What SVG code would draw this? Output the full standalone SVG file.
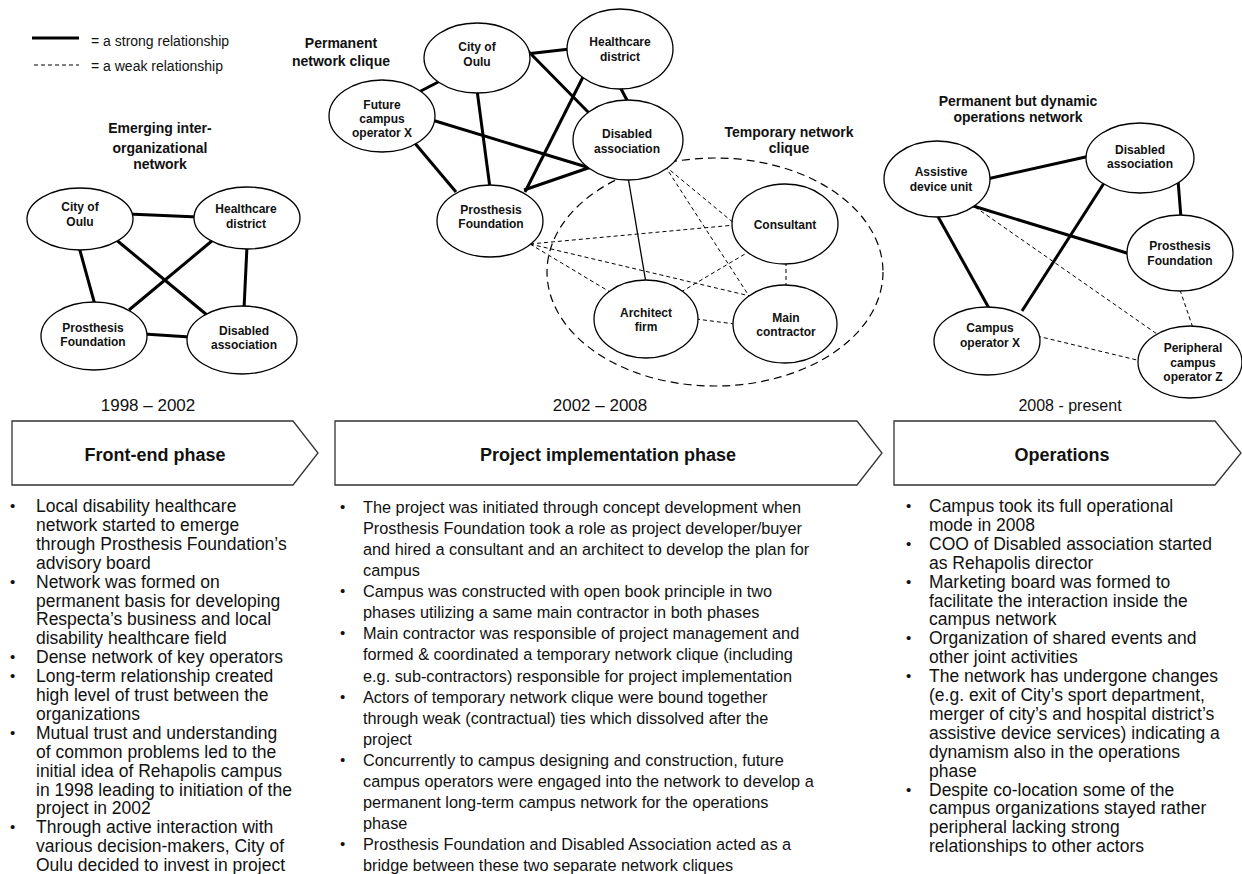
<svg xmlns="http://www.w3.org/2000/svg" width="1242" height="874" viewBox="0 0 1242 874">
  <style>
    text { font-family: "Liberation Sans", Arial, Helvetica, sans-serif; fill: #111; }
    .node ellipse { fill: #fff; stroke: #000; stroke-width: 1.3; }
    .lbl { font-size: 12px; font-weight: bold; text-anchor: middle; }
    .ttl { font-size: 14px; font-weight: bold; text-anchor: middle; }
    .strong { stroke: #000; stroke-width: 3; fill: none; }
    .weak { stroke: #000; stroke-width: 1; stroke-dasharray: 4 3; fill: none; }
    .thin { stroke: #000; stroke-width: 1.3; fill: none; }
    .clique { fill: none; stroke: #000; stroke-width: 1.2; stroke-dasharray: 8 5; }
    .phase path { fill: #fff; stroke: #333; stroke-width: 1.3; }
    .phase text { font-size: 18px; font-weight: bold; text-anchor: middle; }
    .year { font-size: 17px; text-anchor: middle; }
    .legend { font-size: 14px; }
    .body { font-size: 17.5px; }
    .bodym { font-size: 16.3px; }
    .dot { font-size: 15px; }
  </style>

  <!-- legend -->
  <g id="legend">
    <line class="strong" x1="32" y1="38" x2="79" y2="38"/>
    <text class="legend" x="91" y="45.5">= a strong relationship</text>
    <line class="weak" x1="34" y1="65" x2="79" y2="65"/>
    <text class="legend" x="91" y="71">= a weak relationship</text>
  </g>

  <!-- group titles -->
  <g id="titles">
    <text class="ttl" x="160" y="133">Emerging inter-</text>
    <text class="ttl" x="160" y="153">organizational</text>
    <text class="ttl" x="160" y="169">network</text>
    <text class="ttl" x="341" y="48">Permanent</text>
    <text class="ttl" x="341" y="66">network clique</text>
    <text class="ttl" x="789" y="137">Temporary network</text>
    <text class="ttl" x="789" y="153">clique</text>
    <text class="ttl" x="1018" y="106">Permanent but dynamic</text>
    <text class="ttl" x="1018" y="122">operations network</text>
  </g>

  <!-- temporary clique boundary -->
  <ellipse id="temporary-clique" class="clique" cx="715" cy="272" rx="168" ry="114"/>

  <!-- connectors -->
  <g id="connectors">
    <!-- 1998-2002 network -->
    <line class="strong" x1="128" y1="214" x2="198" y2="217"/>
    <line class="strong" x1="114" y1="238" x2="207" y2="315"/>
    <line class="strong" x1="79" y1="247" x2="95" y2="305"/>
    <line class="strong" x1="213" y1="240" x2="129" y2="310"/>
    <line class="strong" x1="247" y1="246" x2="244" y2="309"/>
    <line class="strong" x1="144" y1="334" x2="190" y2="337"/>

    <!-- 2002-2008 permanent clique -->
    <line class="strong" x1="417" y1="93" x2="444" y2="79"/>
    <line class="strong" x1="526" y1="54" x2="570" y2="49"/>
    <line class="strong" x1="528" y1="51" x2="591" y2="115"/>
    <line class="strong" x1="477" y1="90" x2="490" y2="188"/>
    <line class="strong" x1="432" y1="120" x2="590" y2="168"/>
    <line class="strong" x1="408" y1="135" x2="456" y2="192"/>
    <line class="strong" x1="585" y1="73" x2="525" y2="192"/>
    <line class="strong" x1="524" y1="190" x2="591" y2="167"/>
    <line class="strong" x1="619" y1="85" x2="629" y2="104"/>
    <line class="thin" x1="628" y1="177" x2="646" y2="283"/>

    <!-- 2002-2008 temporary clique ties -->
    <line class="weak" x1="530" y1="244" x2="735" y2="225"/>
    <line class="weak" x1="530" y1="244" x2="610" y2="292"/>
    <line class="weak" x1="530" y1="244" x2="750" y2="296"/>
    <line class="weak" x1="665" y1="166" x2="735" y2="224"/>
    <line class="weak" x1="665" y1="166" x2="749" y2="296"/>
    <line class="weak" x1="681" y1="292" x2="750" y2="251"/>
    <line class="weak" x1="696" y1="319" x2="735" y2="324"/>
    <line class="weak" x1="786" y1="262" x2="786" y2="287"/>

    <!-- 2008- operations network -->
    <line class="strong" x1="987" y1="179" x2="1090" y2="156"/>
    <line class="strong" x1="936" y1="213" x2="990" y2="310"/>
    <line class="strong" x1="970" y1="205" x2="1130" y2="254"/>
    <line class="strong" x1="1106" y1="180" x2="1022" y2="311"/>
    <line class="strong" x1="1178" y1="180" x2="1181" y2="218"/>
    <line class="weak" x1="975" y1="207" x2="1157" y2="334"/>
    <line class="weak" x1="1037" y1="336" x2="1141" y2="361"/>
    <line class="weak" x1="1180" y1="290" x2="1193" y2="328"/>
  </g>

  <!-- 1998-2002 nodes -->
  <g id="n1-city" class="node">
    <ellipse cx="80" cy="219" rx="53" ry="31"/>
    <text class="lbl" x="80" y="211">City of</text>
    <text class="lbl" x="80" y="226">Oulu</text>
  </g>
  <g id="n1-healthcare" class="node">
    <ellipse cx="247" cy="218" rx="53" ry="31"/>
    <text class="lbl" x="246" y="213">Healthcare</text>
    <text class="lbl" x="246" y="228">district</text>
  </g>
  <g id="n1-prosthesis" class="node">
    <ellipse cx="94" cy="336" rx="53" ry="34"/>
    <text class="lbl" x="93" y="332">Prosthesis</text>
    <text class="lbl" x="93" y="346">Foundation</text>
  </g>
  <g id="n1-disabled" class="node">
    <ellipse cx="242" cy="340" rx="55" ry="34"/>
    <text class="lbl" x="244" y="335">Disabled</text>
    <text class="lbl" x="244" y="349">association</text>
  </g>

  <!-- 2002-2008 nodes -->
  <g id="n2-city" class="node">
    <ellipse cx="477" cy="58" rx="53" ry="35"/>
    <text class="lbl" x="477" y="51">City of</text>
    <text class="lbl" x="477" y="66">Oulu</text>
  </g>
  <g id="n2-healthcare" class="node">
    <ellipse cx="620" cy="49" rx="53" ry="40"/>
    <text class="lbl" x="620" y="46">Healthcare</text>
    <text class="lbl" x="620" y="61">district</text>
  </g>
  <g id="n2-future-operator" class="node">
    <ellipse cx="382" cy="116" rx="53" ry="36"/>
    <text class="lbl" x="382" y="109">Future</text>
    <text class="lbl" x="382" y="123">campus</text>
    <text class="lbl" x="382" y="137">operator X</text>
  </g>
  <g id="n2-prosthesis" class="node">
    <ellipse cx="490" cy="221" rx="53" ry="36"/>
    <text class="lbl" x="491" y="214">Prosthesis</text>
    <text class="lbl" x="491" y="228">Foundation</text>
  </g>
  <g id="n2-disabled" class="node">
    <ellipse cx="628" cy="140" rx="55" ry="40"/>
    <text class="lbl" x="627" y="138">Disabled</text>
    <text class="lbl" x="627" y="153">association</text>
  </g>
  <g id="n2-consultant" class="node">
    <ellipse cx="785" cy="224" rx="53" ry="40"/>
    <text class="lbl" x="785" y="229">Consultant</text>
  </g>
  <g id="n2-architect" class="node">
    <ellipse cx="646" cy="319" rx="52" ry="39"/>
    <text class="lbl" x="646" y="317">Architect</text>
    <text class="lbl" x="646" y="331">firm</text>
  </g>
  <g id="n2-contractor" class="node">
    <ellipse cx="785" cy="324" rx="52" ry="39"/>
    <text class="lbl" x="786" y="322">Main</text>
    <text class="lbl" x="786" y="336">contractor</text>
  </g>

  <!-- 2008- nodes -->
  <g id="n3-assistive" class="node">
    <ellipse cx="937" cy="179" rx="53" ry="38"/>
    <text class="lbl" x="941" y="176">Assistive</text>
    <text class="lbl" x="941" y="191">device unit</text>
  </g>
  <g id="n3-disabled" class="node">
    <ellipse cx="1140" cy="158" rx="54" ry="35"/>
    <text class="lbl" x="1140" y="154">Disabled</text>
    <text class="lbl" x="1140" y="168">association</text>
  </g>
  <g id="n3-prosthesis" class="node">
    <ellipse cx="1180" cy="253" rx="53" ry="38"/>
    <text class="lbl" x="1180" y="250">Prosthesis</text>
    <text class="lbl" x="1180" y="265">Foundation</text>
  </g>
  <g id="n3-campus-x" class="node">
    <ellipse cx="987" cy="341" rx="53" ry="34"/>
    <text class="lbl" x="990" y="332">Campus</text>
    <text class="lbl" x="990" y="347">operator X</text>
  </g>
  <g id="n3-peripheral-z" class="node">
    <ellipse cx="1190" cy="362" rx="52" ry="36"/>
    <text class="lbl" x="1193" y="352">Peripheral</text>
    <text class="lbl" x="1193" y="367">campus</text>
    <text class="lbl" x="1193" y="381">operator Z</text>
  </g>

  <!-- timeline -->
  <g id="timeline">
    <text class="year" x="148" y="411">1998 – 2002</text>
    <text class="year" x="600" y="411">2002 – 2008</text>
    <text class="year" x="1070" y="411" style="font-size:16px">2008 - present</text>
    <g class="phase" id="phase-front-end">
      <path d="M12 421 H293 L318 453 L293 485 H12 Z"/>
      <text x="155" y="461">Front-end phase</text>
    </g>
    <g class="phase" id="phase-implementation">
      <path d="M335 421 H857 L882 453 L857 485 H335 Z"/>
      <text x="608" y="461">Project implementation phase</text>
    </g>
    <g class="phase" id="phase-operations">
      <path d="M894 421 H1215 L1241 453 L1215 485 H894 Z"/>
      <text x="1062" y="461">Operations</text>
    </g>
  </g>

  <!-- phase descriptions -->
  <g id="notes-front-end" class="body">
    <g class="dot">
      <text x="10" y="511">•</text>
      <text x="10" y="586.6">•</text>
      <text x="10" y="662.2">•</text>
      <text x="10" y="681.1">•</text>
      <text x="10" y="737.8">•</text>
      <text x="10" y="832.3">•</text>
    </g>
    <text x="36" y="512">
      <tspan x="36" dy="0">Local disability healthcare</tspan>
      <tspan x="36" dy="18.9">network started to emerge</tspan>
      <tspan x="36" dy="18.9">through Prosthesis Foundation’s</tspan>
      <tspan x="36" dy="18.9">advisory board</tspan>
      <tspan x="36" dy="18.9">Network was formed on</tspan>
      <tspan x="36" dy="18.9">permanent basis for developing</tspan>
      <tspan x="36" dy="18.9">Respecta’s business and local</tspan>
      <tspan x="36" dy="18.9">disability healthcare field</tspan>
      <tspan x="36" dy="18.9">Dense network of key operators</tspan>
      <tspan x="36" dy="18.9">Long-term relationship created</tspan>
      <tspan x="36" dy="18.9">high level of trust between the</tspan>
      <tspan x="36" dy="18.9">organizations</tspan>
      <tspan x="36" dy="18.9">Mutual trust and understanding</tspan>
      <tspan x="36" dy="18.9">of common problems led to the</tspan>
      <tspan x="36" dy="18.9">initial idea of Rehapolis campus</tspan>
      <tspan x="36" dy="18.9">in 1998 leading to initiation of the</tspan>
      <tspan x="36" dy="18.9">project in 2002</tspan>
      <tspan x="36" dy="18.9">Through active interaction with</tspan>
      <tspan x="36" dy="18.9">various decision-makers, City of</tspan>
      <tspan x="36" dy="18.9">Oulu decided to invest in project</tspan>
    </text>
  </g>

  <g id="notes-implementation" class="bodym">
    <g class="dot">
      <text x="340" y="512">•</text>
      <text x="340" y="596.3">•</text>
      <text x="340" y="638.4">•</text>
      <text x="340" y="701.6">•</text>
      <text x="340" y="764.8">•</text>
      <text x="340" y="849.1">•</text>
    </g>
    <text x="363" y="513">
      <tspan x="363" dy="0">The project was initiated through concept development when</tspan>
      <tspan x="363" dy="21.07">Prosthesis Foundation took a role as project developer/buyer</tspan>
      <tspan x="363" dy="21.07">and hired a consultant and an architect to develop the plan for</tspan>
      <tspan x="363" dy="21.07">campus</tspan>
      <tspan x="363" dy="21.07">Campus was constructed with open book principle in two</tspan>
      <tspan x="363" dy="21.07">phases utilizing a same main contractor in both phases</tspan>
      <tspan x="363" dy="21.07">Main contractor was responsible of project management and</tspan>
      <tspan x="363" dy="21.07">formed &amp; coordinated a temporary network clique (including</tspan>
      <tspan x="363" dy="21.07">e.g. sub-contractors) responsible for project implementation</tspan>
      <tspan x="363" dy="21.07">Actors of temporary network clique were bound together</tspan>
      <tspan x="363" dy="21.07">through weak (contractual) ties which dissolved after the</tspan>
      <tspan x="363" dy="21.07">project</tspan>
      <tspan x="363" dy="21.07">Concurrently to campus designing and construction, future</tspan>
      <tspan x="363" dy="21.07">campus operators were engaged into the network to develop a</tspan>
      <tspan x="363" dy="21.07">permanent long-term campus network for the operations</tspan>
      <tspan x="363" dy="21.07">phase</tspan>
      <tspan x="363" dy="21.07">Prosthesis Foundation and Disabled Association acted as a</tspan>
      <tspan x="363" dy="21.07">bridge between these two separate network cliques</tspan>
    </text>
  </g>

  <g id="notes-operations" class="body">
    <g class="dot">
      <text x="906" y="511">•</text>
      <text x="906" y="548.8">•</text>
      <text x="906" y="586.6">•</text>
      <text x="906" y="643.3">•</text>
      <text x="906" y="681.1">•</text>
      <text x="906" y="794.5">•</text>
    </g>
    <text x="929" y="512">
      <tspan x="929" dy="0">Campus took its full operational</tspan>
      <tspan x="929" dy="18.9">mode in 2008</tspan>
      <tspan x="929" dy="18.9">COO of Disabled association started</tspan>
      <tspan x="929" dy="18.9">as Rehapolis director</tspan>
      <tspan x="929" dy="18.9">Marketing board was formed to</tspan>
      <tspan x="929" dy="18.9">facilitate the interaction inside the</tspan>
      <tspan x="929" dy="18.9">campus network</tspan>
      <tspan x="929" dy="18.9">Organization of shared events and</tspan>
      <tspan x="929" dy="18.9">other joint activities</tspan>
      <tspan x="929" dy="18.9">The network has undergone changes</tspan>
      <tspan x="929" dy="18.9">(e.g. exit of City’s sport department,</tspan>
      <tspan x="929" dy="18.9">merger of city’s and hospital district’s</tspan>
      <tspan x="929" dy="18.9">assistive device services) indicating a</tspan>
      <tspan x="929" dy="18.9">dynamism also in the operations</tspan>
      <tspan x="929" dy="18.9">phase</tspan>
      <tspan x="929" dy="18.9">Despite co-location some of the</tspan>
      <tspan x="929" dy="18.9">campus organizations stayed rather</tspan>
      <tspan x="929" dy="18.9">peripheral lacking strong</tspan>
      <tspan x="929" dy="18.9">relationships to other actors</tspan>
    </text>
  </g>
</svg>
